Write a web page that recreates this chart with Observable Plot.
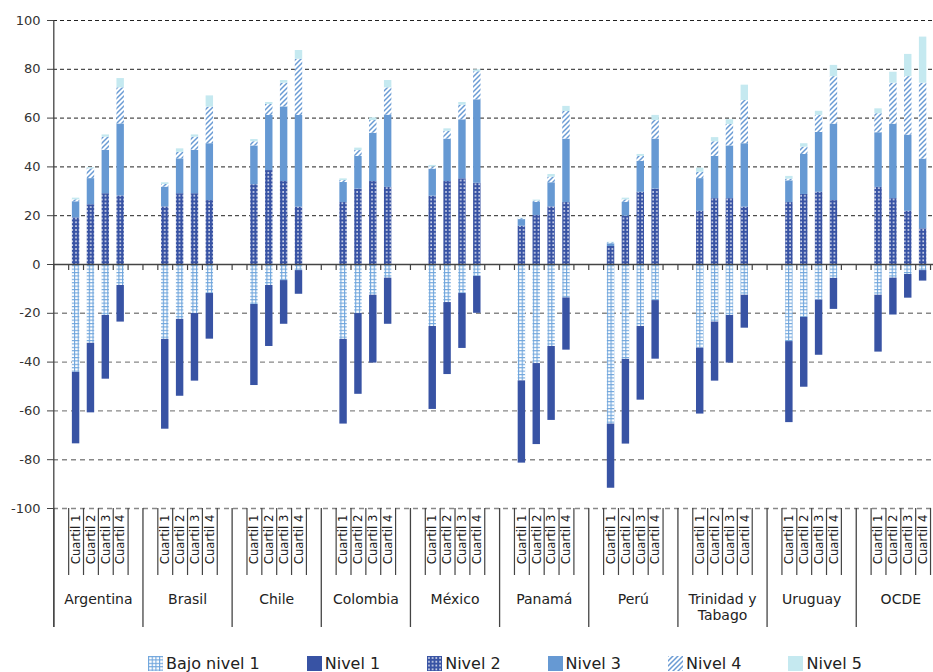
<!DOCTYPE html>
<html>
<head>
<meta charset="utf-8">
<script src="https://cdn.jsdelivr.net/npm/d3@7"></script>
<script src="https://cdn.jsdelivr.net/npm/@observablehq/plot@0.6"></script>
<style>
  html, body { margin: 0; padding: 0; background: #fff; }
  body { width: 933px; height: 672px; overflow: hidden; font-family: "DejaVu Sans", sans-serif; }
  #legend { display: flex; gap: 47px; padding-left: 148px; padding-top: 15px; height: 17px;
            align-items: center; font-size: 16px; color: #222; white-space: nowrap; }
  .item { display: flex; align-items: center; gap: 3px; }
  .item svg { display: block; }
</style>
</head>
<body>
<div id="chart"></div>
<div id="legend"></div>
<script>
// ---------- data ----------
const countries = ["Argentina", "Brasil", "Chile", "Colombia", "México", "Panamá", "Perú", "Trinidad y\nTabago", "Uruguay", "OCDE"];
const quartiles = ["Cuartil 1", "Cuartil 2", "Cuartil 3", "Cuartil 4"];
const levels = ["Bajo nivel 1", "Nivel 1", "Nivel 2", "Nivel 3", "Nivel 4", "Nivel 5"];
const yTicks = [-100, -80, -60, -40, -20, 0, 20, 40, 60, 80, 100];

// percentages per country (rows) and quartile (columns)
const bajoNivel1 = [
  [44.2, 32.3, 20.9, 8.6], [30.7, 22.5, 20.1, 11.9], [16.4, 8.6, 6.6, 2.5], [30.7, 20.1, 12.6, 5.6],
  [25.4, 15.6, 11.9, 4.9], [47.7, 40.6, 33.6, 13.7], [65.4, 38.9, 25.4, 14.8], [34.3, 23.6, 20.9, 12.6],
  [31.6, 21.7, 14.6, 5.7], [12.6, 5.6, 4.1, 2.5]
];
const nivel1 = [
  [29.3, 28.5, 26.1, 15.0], [36.8, 31.5, 27.7, 18.7], [33.2, 25.0, 17.9, 9.7], [34.7, 33.1, 27.8, 18.9],
  [34.0, 29.5, 22.5, 15.1], [33.7, 33.2, 30.3, 21.4], [26.3, 34.7, 30.2, 24.0], [27.0, 24.2, 19.5, 13.5],
  [33.2, 28.6, 22.6, 12.7], [23.3, 15.1, 9.7, 4.3]
];
const nivel2 = [
  [19.1, 24.5, 29.0, 28.1], [23.6, 29.0, 29.0, 26.2], [32.7, 38.5, 34.0, 23.5], [25.4, 30.9, 34.0, 31.6],
  [28.0, 34.0, 35.1, 33.3], [15.7, 20.1, 23.6, 25.4], [7.4, 19.8, 29.6, 30.9], [21.8, 27.0, 27.0, 23.5],
  [25.4, 28.7, 29.6, 26.2], [31.6, 27.0, 21.8, 14.6]
];
const nivel3 = [
  [6.6, 10.7, 17.8, 29.5], [8.1, 14.3, 17.8, 23.3], [15.9, 22.6, 30.6, 37.6], [8.2, 13.4, 19.8, 29.6],
  [11.1, 17.4, 24.2, 34.2], [2.7, 5.4, 9.9, 26.0], [1.1, 5.7, 12.7, 20.5], [13.4, 17.3, 21.6, 26.0],
  [8.9, 16.4, 24.5, 31.3], [22.4, 30.5, 31.2, 28.6]
];
const nivel4 = [
  [0.8, 4.0, 5.4, 14.8], [1.1, 2.7, 5.4, 15.0], [1.7, 4.5, 9.7, 23.0], [0.8, 2.4, 5.2, 11.2],
  [0.9, 3.2, 6.0, 11.5], [0.4, 0.5, 2.3, 11.3], [0.4, 1.0, 2.0, 7.6], [2.6, 6.0, 8.8, 17.7],
  [0.7, 3.0, 7.0, 19.5], [7.8, 16.8, 24.0, 31.1]
];
const nivel5 = [
  [0.7, 0.5, 0.9, 3.8], [0.7, 1.4, 0.9, 4.6], [0.9, 0.8, 1.1, 3.6], [0.7, 1.0, 1.1, 3.0],
  [0.6, 1.0, 1.1, 0.8], [0.2, 0.4, 1.1, 2.1], [0.2, 0.7, 0.8, 2.1], [1.7, 1.7, 1.9, 6.3],
  [1.1, 1.4, 1.7, 4.6], [2.0, 4.5, 9.1, 18.9]
];

// ---------- styles ----------
const fills = {
  "Bajo nivel 1": "url(#p-bajo)",
  "Nivel 1": "#3853a4",
  "Nivel 2": "url(#p-n2)",
  "Nivel 3": "#6699d3",
  "Nivel 4": "url(#p-n4)",
  "Nivel 5": "#c5e9f0"
};

// ---------- build stacked rows (slot index: 6 per country, first & last empty) ----------
const negSeries = [["Bajo nivel 1", bajoNivel1], ["Nivel 1", nivel1]];
const posSeries = [["Nivel 2", nivel2], ["Nivel 3", nivel3], ["Nivel 4", nivel4], ["Nivel 5", nivel5]];
const rows = [];
const bars = [];
countries.forEach((c, g) => quartiles.forEach((q, k) => {
  const slot = 6 * g + 1 + k;
  bars.push({slot, q});
  let acc = 0;
  for (const [lv, arr] of negSeries) { const v = arr[g][k]; rows.push({level: lv, slot, y1: -acc, y2: -(acc + v)}); acc += v; }
  acc = 0;
  for (const [lv, arr] of posSeries) { const v = arr[g][k]; rows.push({level: lv, slot, y1: acc, y2: acc + v}); acc += v; }
}));
const nSlots = countries.length * 6;
const allBounds = d3.range(0, nSlots + 1);
const countryBounds = allBounds.filter(b => b % 6 === 0);
const quartileBounds = allBounds.filter(b => b % 6 !== 0);

const barMarks = levels.map(lv => Plot.rect(rows.filter(r => r.level === lv), {
  x1: d => d.slot + 0.25, x2: d => d.slot + 0.75, y1: "y1", y2: "y2", fill: fills[lv]
}));

const chart = Plot.plot({
  width: 933,
  height: 640,
  marginTop: 20,
  marginLeft: 53,
  marginRight: 0,
  marginBottom: 13,
  style: {fontFamily: "DejaVu Sans, sans-serif", color: "#333", background: "#fff", overflow: "hidden"},
  x: {domain: [0, nSlots], range: [53.3, 53.3 + nSlots * 14.86], axis: null},
  y: {domain: [-100, 100], range: [508, 20], axis: null},
  marks: [
    Plot.ruleY(yTicks.filter(v => v > 0), {stroke: "#222", strokeWidth: 1, strokeDasharray: "4,3"}),
    Plot.ruleY(yTicks.filter(v => v < 0), {stroke: "#888", strokeWidth: 1.4, strokeDasharray: "5,4"}),
    ...barMarks,
    Plot.ruleY([0], {stroke: "#444", strokeWidth: 1.3}),
    Plot.ruleX(allBounds, {x: d => d, y1: 0, y2: 0, insetBottom: -6, stroke: "#444", strokeWidth: 1.2}),
    Plot.ruleX([0], {stroke: "#444", strokeWidth: 1.3}),
    Plot.ruleX(countryBounds, {x: d => d, insetTop: 488, stroke: "#444", strokeWidth: 1.3}),
    Plot.ruleX(quartileBounds, {x: d => d, insetTop: 488, insetBottom: 52, stroke: "#444", strokeWidth: 1.2}),
    Plot.axisY({ticks: yTicks, tickSize: 6, tickPadding: 7, fontSize: 13, stroke: "#444",
                tickFormat: d => String(d), label: null}),
    Plot.text(bars, {x: d => d.slot + 0.5, y: -100, text: "q", rotate: -90, textAnchor: "end",
                     lineAnchor: "middle", dy: 6, fontSize: 11.7, fill: "#222"}),
    Plot.text(countries, {x: (d, i) => 6 * i + 3, y: -100, text: d => d, lineAnchor: "top",
                          dy: 84, fontSize: 14, lineHeight: 1.14, fill: "#222"})
  ]
});

// patterns
const svg = d3.select(chart.tagName.toLowerCase() === "svg" ? chart : chart.querySelector("svg"));
const defs = svg.insert("defs", ":first-child");
const pb = defs.append("pattern").attr("id", "p-bajo").attr("patternUnits", "userSpaceOnUse")
  .attr("width", 3.7).attr("height", 3.4);
pb.append("rect").attr("width", 3.7).attr("height", 3.4).attr("fill", "#ffffff");
pb.append("rect").attr("x", 0).attr("width", 1.1).attr("height", 3.4).attr("fill", "#6fa5dc");
pb.append("rect").attr("y", 0).attr("width", 3.7).attr("height", 1.1).attr("fill", "#6fa5dc");
const p2 = defs.append("pattern").attr("id", "p-n2").attr("patternUnits", "userSpaceOnUse")
  .attr("width", 3.7).attr("height", 3.8);
p2.append("rect").attr("width", 3.7).attr("height", 3.8).attr("fill", "#3853a4");
p2.append("rect").attr("x", 1.2).attr("y", 1.2).attr("width", 1.5).attr("height", 1.5).attr("fill", "#ffffff");
const p4 = defs.append("pattern").attr("id", "p-n4").attr("patternUnits", "userSpaceOnUse")
  .attr("width", 5).attr("height", 5);
p4.append("rect").attr("width", 5).attr("height", 5).attr("fill", "#ffffff");
p4.append("path").attr("d", "M0,5 L5,0 M-1,1 L1,-1 M4,6 L6,4").attr("stroke", "#6a9bd4")
  .attr("stroke-width", 1.5);

document.getElementById("chart").appendChild(chart);

// legend
const legend = d3.select("#legend");
levels.forEach(lv => {
  const item = legend.append("div").attr("class", "item");
  const s = item.append("svg").attr("width", 15).attr("height", 15);
  s.append("rect").attr("width", 15).attr("height", 15).attr("fill", fills[lv]);
  item.append("span").text(lv);
});
</script>
</body>
</html>
